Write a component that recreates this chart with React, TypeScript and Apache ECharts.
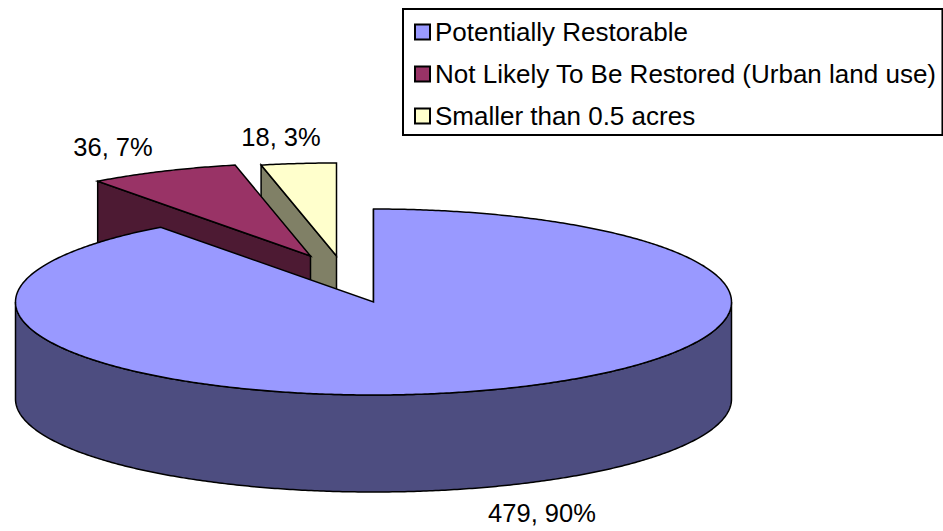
import React, { useEffect, useRef } from "react";
import * as echarts from "echarts";

const categories = ["Potentially Restorable", "Not Likely To Be Restored (Urban land use)", "Smaller than 0.5 acres"];
const values = [479, 36, 18];
const topColors = ["#9999FF", "#993366", "#FFFFCC"];
const sideColors = ["#4D4D80", "#4D1A33", "#808066"];

const CX = 373.5, CY = 302, RX = 358, RY = 93, DEPTH = 97;
const offsets = [[0, 0], [-63, -46], [-37, -46]];
const labelPos = [[542, 513], [113, 147], [281, 137]];
const zOrder = [3, 2, 1];
const FONT = '25.5px "Liberation Sans", Arial, sans-serif';

const total = values.reduce((a, b) => a + b, 0);

function pt(deg: number, ox: number, oy: number, dz = 0) {
  const r = (deg * Math.PI) / 180;
  return [CX + ox + RX * Math.sin(r), CY + oy - RY * Math.cos(r) + dz];
}
function arc(a: number, b: number, ox: number, oy: number, dz = 0) {
  const n = Math.max(2, Math.ceil(Math.abs(b - a) / 0.5));
  const out: number[][] = [];
  for (let i = 0; i <= n; i++) out.push(pt(a + ((b - a) * i) / n, ox, oy, dz));
  return out;
}

function makeRender(idx: number) {
  return (_params: any, api: any) => {
    const v = api.value(0);
    const start = (values.slice(0, idx).reduce((a, b) => a + b, 0) / total) * 360;
    const end = start + (v / total) * 360;
    const [ox, oy] = offsets[idx];
    const line = { stroke: "#000", lineWidth: 1.5, lineJoin: "miter" };
    const apex = [CX + ox, CY + oy];
    const children: any[] = [];
    const s = pt(start, ox, oy);
    children.push({
      type: "polygon",
      shape: { points: [s, apex, [apex[0], apex[1] + DEPTH], [s[0], s[1] + DEPTH]] },
      style: { fill: sideColors[idx], ...line },
    });
    const a = Math.max(start, 90), b = Math.min(end, 270);
    if (b > a) {
      children.push({
        type: "polygon",
        shape: { points: [...arc(a, b, ox, oy), ...arc(b, a, ox, oy, DEPTH)] },
        style: { fill: sideColors[idx], ...line },
      });
    }
    children.push({
      type: "polygon",
      shape: { points: [apex, ...arc(start, end, ox, oy)] },
      style: { fill: topColors[idx], ...line },
    });
    children.push({
      type: "text",
      style: {
        text: `${v}, ${Math.round((v / total) * 100)}%`,
        x: labelPos[idx][0],
        y: labelPos[idx][1],
        align: "center",
        verticalAlign: "middle",
        font: FONT,
        fill: "#000",
      },
    });
    return { type: "group", children };
  };
}

export default function App() {
  const ref = useRef<HTMLDivElement>(null);
  useEffect(() => {
    document.body.style.margin = "0";
    const chart = echarts.init(ref.current!, null, { renderer: "svg" });
    chart.setOption({
      animation: false,
      backgroundColor: "#fff",
      legend: {
        orient: "vertical",
        left: 403,
        top: 9,
        padding: [10, 6, 6, 11],
        itemWidth: 15,
        itemHeight: 15,
        itemGap: 16,
        icon: "rect",
        backgroundColor: "#fff",
        borderColor: "#000",
        borderWidth: 2,
        borderRadius: 0,
        itemStyle: { borderColor: "#000", borderWidth: 2 },
        textStyle: { fontFamily: '"Liberation Sans", Arial, sans-serif', fontSize: 26, color: "#000" },
        data: categories,
      },
      series: categories.map((name, i) => ({
        type: "custom",
        name,
        coordinateSystem: "none",
        z: zOrder[i],
        itemStyle: { color: topColors[i] },
        data: [[values[i]]],
        renderItem: makeRender(i),
      })),
    });
    return () => chart.dispose();
  }, []);
  return <div ref={ref} style={{ position: "absolute", left: 0, top: 0, width: 943, height: 531 }} />;
}
